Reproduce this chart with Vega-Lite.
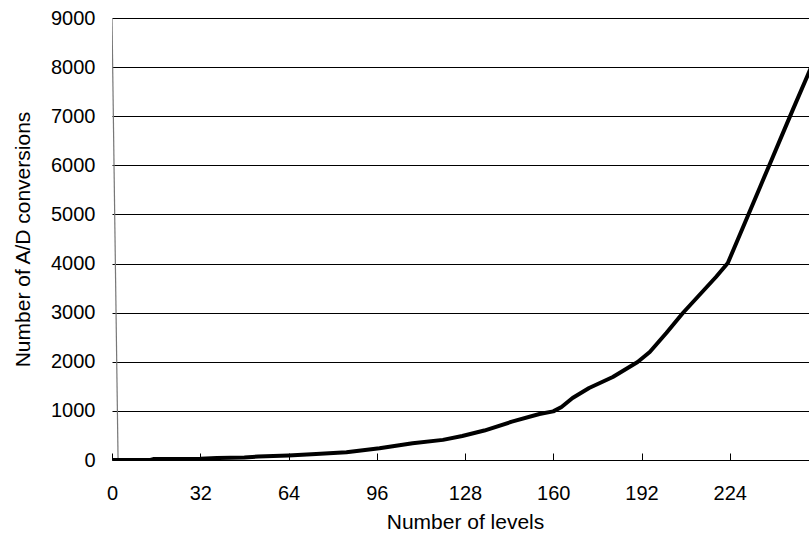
{
  "$schema": "https://vega.github.io/schema/vega-lite/v6.json",
  "width": 706,
  "height": 442,
  "autosize": {"type": "none"},
  "padding": {"left": 112, "top": 18, "right": 0, "bottom": 85},
  "background": "white",
  "config": {
    "view": {"stroke": null},
    "font": "Liberation Sans"
  },
  "layer": [
    {
      "data": {"values": [
        {"levels": 0, "conversions": 9000},
        {"levels": 2.2, "conversions": 0}
      ]},
      "mark": {"type": "line", "color": "#777777", "strokeWidth": 1.2, "clip": true},
      "encoding": {
        "x": {"field": "levels", "type": "quantitative"},
        "y": {"field": "conversions", "type": "quantitative"}
      }
    },
    {
      "data": {"values": [
        {"levels": 0, "conversions": 0},
        {"levels": 14, "conversions": 0},
        {"levels": 15, "conversions": 20},
        {"levels": 32, "conversions": 25},
        {"levels": 38, "conversions": 40},
        {"levels": 48, "conversions": 50},
        {"levels": 53, "conversions": 70},
        {"levels": 64, "conversions": 90},
        {"levels": 74, "conversions": 120},
        {"levels": 85, "conversions": 160},
        {"levels": 97, "conversions": 238},
        {"levels": 109, "conversions": 340},
        {"levels": 120, "conversions": 410},
        {"levels": 127, "conversions": 489},
        {"levels": 135, "conversions": 600},
        {"levels": 145, "conversions": 780},
        {"levels": 155, "conversions": 937},
        {"levels": 160, "conversions": 990},
        {"levels": 163, "conversions": 1080},
        {"levels": 167, "conversions": 1262},
        {"levels": 173, "conversions": 1466},
        {"levels": 181.6, "conversions": 1690},
        {"levels": 190.6, "conversions": 1996},
        {"levels": 195, "conversions": 2199},
        {"levels": 201, "conversions": 2586},
        {"levels": 207, "conversions": 2993},
        {"levels": 213, "conversions": 3360},
        {"levels": 219, "conversions": 3726},
        {"levels": 223.3, "conversions": 4011},
        {"levels": 227, "conversions": 4500},
        {"levels": 231, "conversions": 5030},
        {"levels": 235, "conversions": 5560},
        {"levels": 239, "conversions": 6090},
        {"levels": 243, "conversions": 6620},
        {"levels": 247, "conversions": 7150},
        {"levels": 252.3, "conversions": 7839},
        {"levels": 256, "conversions": 8330}
      ]},
      "mark": {"type": "line", "color": "black", "strokeWidth": 4, "strokeJoin": "round", "clip": true},
      "encoding": {
        "x": {
          "field": "levels", "type": "quantitative",
          "scale": {"domain": [0, 256], "nice": false},
          "axis": {
            "title": "Number of levels",
            "values": [0, 32, 64, 96, 128, 160, 192, 224],
            "grid": false,
            "labelFlush": false,
            "domainColor": "black",
            "domainWidth": 1,
            "tickColor": "black",
            "tickSize": -7,
            "tickWidth": 1,
            "labelFont": "Liberation Sans",
            "labelFontSize": 20,
            "labelColor": "black",
            "labelPadding": 30,
            "titleFont": "Liberation Sans",
            "titleFontSize": 21,
            "titleFontWeight": "normal",
            "titleColor": "black",
            "titlePadding": 8
          }
        },
        "y": {
          "field": "conversions", "type": "quantitative",
          "scale": {"domain": [0, 9000], "nice": false},
          "axis": {
            "title": "Number of A/D conversions",
            "values": [0, 1000, 2000, 3000, 4000, 5000, 6000, 7000, 8000, 9000],
            "format": "d",
            "domain": false,
            "ticks": false,
            "grid": true,
            "gridColor": "black",
            "gridWidth": 1,
            "gridOpacity": 1,
            "labelFont": "Liberation Sans",
            "labelFontSize": 20,
            "labelColor": "black",
            "labelPadding": 17,
            "titleFont": "Liberation Sans",
            "titleFontSize": 21,
            "titleFontWeight": "normal",
            "titleColor": "black",
            "titlePadding": 17
          }
        }
      }
    }
  ]
}
